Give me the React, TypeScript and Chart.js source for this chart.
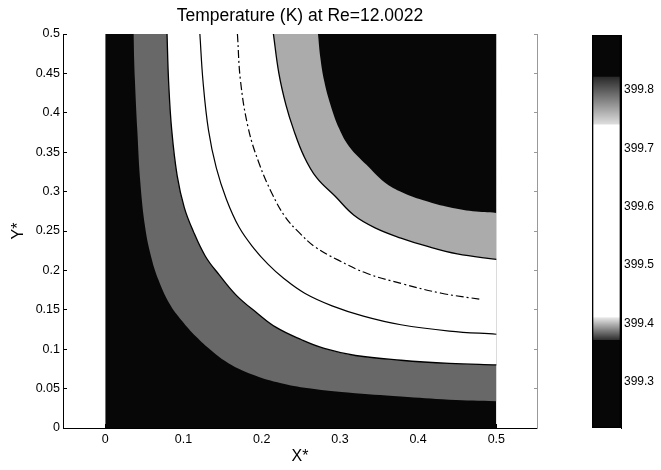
import React, { useEffect, useRef } from "react";
import { Chart, registerables } from "chart.js";

Chart.register(...registerables);

// ---------- texts ----------
const TITLE = "Temperature (K) at Re=12.0022";
const X_LABEL = "X*";
const Y_LABEL = "Y*";

// ---------- axes ----------
const xRange = [-0.054, 0.552];
const yRange = [0, 0.5];
const xTicks = [0, 0.1, 0.2, 0.3, 0.4, 0.5];
const yTicks = [0, 0.05, 0.1, 0.15, 0.2, 0.25, 0.3, 0.35, 0.4, 0.45, 0.5];
const domainX = [0, 0.5];

// ---------- colour bar ----------
const cbRange = [399.221, 399.894];
const cbTicks = [399.3, 399.4, 399.5, 399.6, 399.7, 399.8];
// band boundaries of the filled contour levels (K)
const levelBounds = [399.221, 399.371, 399.41, 399.74, 399.822, 399.894];

// ---------- contour curves (X*, Y*) ----------
// dark -> grey boundary (near walls)
const curveAx = [0.036, 0.038, 0.041, 0.045, 0.051, 0.058, 0.068, 0.082, 0.098, 0.116, 0.136, 0.158, 0.188, 0.22, 0.255, 0.31, 0.378, 0.44, 0.5];
const curveAy = [0.5, 0.44, 0.378, 0.31, 0.255, 0.22, 0.188, 0.158, 0.136, 0.116, 0.098, 0.082, 0.068, 0.058, 0.051, 0.045, 0.04, 0.036, 0.034];
// grey -> white boundary (solid line)
const curveBx = [0.079, 0.081, 0.085, 0.092, 0.101, 0.112, 0.128, 0.146, 0.168, 0.194, 0.218, 0.251, 0.28, 0.32, 0.378, 0.44, 0.5];
const curveBy = [0.5, 0.44, 0.378, 0.32, 0.28, 0.251, 0.218, 0.194, 0.168, 0.146, 0.128, 0.112, 0.101, 0.092, 0.086, 0.082, 0.08];
// solid contour line in the white band
const curveCx = [0.121, 0.125, 0.132, 0.142, 0.155, 0.171, 0.19, 0.208, 0.228, 0.255, 0.29, 0.33, 0.378, 0.44, 0.5];
const curveCy = [0.5, 0.44, 0.378, 0.33, 0.29, 0.255, 0.228, 0.208, 0.19, 0.171, 0.155, 0.142, 0.131, 0.123, 0.119];
// dash-dot contour line
const curveDx = [0.169, 0.173, 0.183, 0.197, 0.213, 0.23, 0.248, 0.268, 0.298, 0.335, 0.38, 0.43, 0.482];
const curveDy = [0.5, 0.44, 0.38, 0.335, 0.298, 0.268, 0.248, 0.23, 0.213, 0.196, 0.183, 0.171, 0.163];
// white -> grey boundary (solid line, inner)
const curveEx = [0.215, 0.222, 0.231, 0.241, 0.254, 0.27, 0.294, 0.318, 0.345, 0.378, 0.41, 0.45, 0.5];
const curveEy = [0.5, 0.45, 0.41, 0.378, 0.345, 0.318, 0.294, 0.27, 0.254, 0.241, 0.231, 0.221, 0.214];
// grey -> dark boundary (corner)
const curveFx = [0.272, 0.275, 0.28, 0.288, 0.299, 0.312, 0.334, 0.357, 0.38, 0.41, 0.44, 0.47, 0.5];
const curveFy = [0.5, 0.47, 0.44, 0.41, 0.38, 0.357, 0.334, 0.312, 0.299, 0.288, 0.28, 0.275, 0.273];

const DARK = "#070707";
const GREY_OUT = "#686868";
const GREY_IN = "#ababab";
const FONT = "'Liberation Sans', Arial, Helvetica, sans-serif";

const pts = (xs: number[], ys: number[]) => xs.map((x, i) => ({ x, y: ys[i] }));

function fmt(v: number) {
  return String(+Number(v).toFixed(2));
}

export default function App() {
  const mainRef = useRef<HTMLCanvasElement | null>(null);
  const cbRef = useRef<HTMLCanvasElement | null>(null);

  useEffect(() => {
    Chart.defaults.font.family = FONT;
    Chart.defaults.color = "#000";

    const common = {
      showLine: true,
      pointRadius: 0,
      pointHoverRadius: 0,
      tension: 0.4,
    };

    const main = new Chart(mainRef.current!, {
      type: "scatter",
      data: {
        datasets: [
          {
            ...common,
            tension: 0,
            data: pts(domainX, [yRange[0], yRange[0]]),
            fill: "end",
            backgroundColor: DARK,
            borderWidth: 0,
            order: 10,
          },
          {
            ...common,
            data: pts(curveAx, curveAy),
            fill: "end",
            backgroundColor: GREY_OUT,
            borderWidth: 0,
            order: 9,
          },
          {
            ...common,
            data: pts(curveBx, curveBy),
            fill: "end",
            backgroundColor: "#ffffff",
            borderColor: "#000",
            borderWidth: 1.3,
            order: 8,
          },
          {
            ...common,
            data: pts(curveEx, curveEy),
            fill: "end",
            backgroundColor: GREY_IN,
            borderColor: "#000",
            borderWidth: 1.3,
            order: 7,
          },
          {
            ...common,
            data: pts(curveFx, curveFy),
            fill: "end",
            backgroundColor: DARK,
            borderWidth: 0,
            order: 6,
          },
          {
            ...common,
            data: pts(curveCx, curveCy),
            fill: false,
            borderColor: "#000",
            borderWidth: 1.2,
            order: 2,
          },
          {
            ...common,
            data: pts(curveDx, curveDy),
            fill: false,
            borderColor: "#000",
            borderWidth: 1.2,
            borderDash: [8, 3, 2, 3],
            order: 2,
          },
        ],
      },
      options: {
        responsive: false,
        animation: false,
        events: [],
        layout: { padding: { left: 0, right: 124, top: 0, bottom: 0 } },
        plugins: {
          legend: { display: false },
          tooltip: { enabled: false },
          title: {
            display: true,
            text: TITLE,
            fullSize: false,
            font: { size: 17.5, weight: "normal", family: FONT },
            color: "#000",
            padding: { top: 6, bottom: 7 },
          },
        },
        scales: {
          x: {
            type: "linear",
            min: xRange[0],
            max: xRange[1],
            afterBuildTicks: (s: any) => {
              s.ticks = xTicks.map((v) => ({ value: v }));
            },
            afterFit: (s: any) => {
              s.height = 42;
            },
            ticks: {
              callback: (v: any) => fmt(v),
              font: { size: 12.5, family: FONT },
              color: "#000",
              padding: 8,
              maxRotation: 0,
            },
            grid: {
              display: true,
              drawOnChartArea: false,
              drawTicks: true,
              tickLength: -4,
              tickColor: "#000",
            },
            border: { display: true, color: "#000", width: 1 },
            title: {
              display: true,
              text: X_LABEL,
              font: { size: 16, family: FONT },
              color: "#000",
              padding: { top: 0, bottom: 4 },
            },
          },
          y: {
            type: "linear",
            position: "left",
            min: yRange[0],
            max: yRange[1],
            afterBuildTicks: (s: any) => {
              s.ticks = yTicks.map((v) => ({ value: v }));
            },
            afterFit: (s: any) => {
              s.width = 63;
            },
            ticks: {
              callback: (v: any) => fmt(v),
              font: { size: 12.5, family: FONT },
              color: "#000",
              padding: 7,
            },
            grid: {
              display: true,
              drawOnChartArea: false,
              drawTicks: true,
              tickLength: -4,
              tickColor: "#000",
            },
            border: { display: true, color: "#000", width: 1 },
            title: {
              display: true,
              text: Y_LABEL,
              font: { size: 16, family: FONT },
              color: "#000",
              padding: { top: 9, bottom: 0 },
            },
          },
          yr: {
            type: "linear",
            position: "right",
            min: yRange[0],
            max: yRange[1],
            afterBuildTicks: (s: any) => {
              s.ticks = yTicks.map((v) => ({ value: v }));
            },
            afterFit: (s: any) => {
              s.width = 0;
            },
            ticks: { display: false },
            grid: {
              display: true,
              drawOnChartArea: false,
              drawTicks: true,
              tickLength: -3,
              tickColor: "#999",
            },
            border: { display: true, color: "#999", width: 1, dash: [3, 2] },
          },
        },
      } as any,
    });

    const gradient = (c: any, lo: number, hi: number, cLo: string, cHi: string) => {
      const chart = c.chart;
      if (!chart.chartArea) return cLo;
      const ys = chart.scales.y;
      const g = chart.ctx.createLinearGradient(0, ys.getPixelForValue(lo), 0, ys.getPixelForValue(hi));
      g.addColorStop(0, cLo);
      g.addColorStop(1, cHi);
      return g;
    };

    const L = levelBounds;
    const barCommon = {
      grouped: false,
      barPercentage: 1,
      categoryPercentage: 1,
      borderWidth: 0,
    };

    const cb = new Chart(cbRef.current!, {
      type: "bar",
      data: {
        labels: ["T"],
        datasets: [
          { ...barCommon, data: [[L[0], L[1]]], backgroundColor: DARK, order: 5 },
          {
            ...barCommon,
            data: [[L[1], L[2]]],
            backgroundColor: (c: any) => gradient(c, L[1], L[2], "#2a2a2a", "#e8e8e8"),
            order: 5,
          },
          { ...barCommon, data: [[L[2], L[3]]], backgroundColor: "#ffffff", order: 5 },
          {
            ...barCommon,
            data: [[L[3], L[4]]],
            backgroundColor: (c: any) => gradient(c, L[3], L[4], "#e0e0e0", "#2a2a2a"),
            order: 5,
          },
          { ...barCommon, data: [[L[4], L[5]]], backgroundColor: DARK, order: 5 },
          {
            ...barCommon,
            data: [[cbRange[0], cbRange[1]]],
            backgroundColor: "rgba(0,0,0,0)",
            borderColor: "#000",
            borderWidth: 1,
            borderSkipped: false,
            order: 1,
          },
        ],
      },
      options: {
        responsive: false,
        animation: false,
        events: [],
        layout: { padding: { left: 7, right: 0, top: 35, bottom: 42 } },
        plugins: { legend: { display: false }, tooltip: { enabled: false }, title: { display: false } },
        scales: {
          x: { display: false, offset: true },
          y: {
            type: "linear",
            position: "right",
            min: cbRange[0],
            max: cbRange[1],
            afterBuildTicks: (s: any) => {
              s.ticks = cbTicks.map((v) => ({ value: v }));
            },
            afterFit: (s: any) => {
              s.width = 40;
            },
            ticks: {
              callback: (v: any) => Number(v).toFixed(1),
              font: { size: 12, family: FONT },
              color: "#000",
              padding: 6,
            },
            grid: {
              display: true,
              drawOnChartArea: false,
              drawTicks: true,
              tickLength: -3,
              tickColor: "#000",
            },
            border: { display: true, color: "#000", width: 1 },
          },
        },
      } as any,
    });

    return () => {
      main.destroy();
      cb.destroy();
    };
  }, []);

  return (
    <div style={{ position: "absolute", left: 0, top: 0, width: 661, height: 470, background: "#fff" }}>
      <canvas ref={mainRef} width={661} height={470} style={{ position: "absolute", left: 0, top: 0, display: "block" }} />
      <canvas ref={cbRef} width={76} height={470} style={{ position: "absolute", left: 585, top: 0, display: "block" }} />
    </div>
  );
}
